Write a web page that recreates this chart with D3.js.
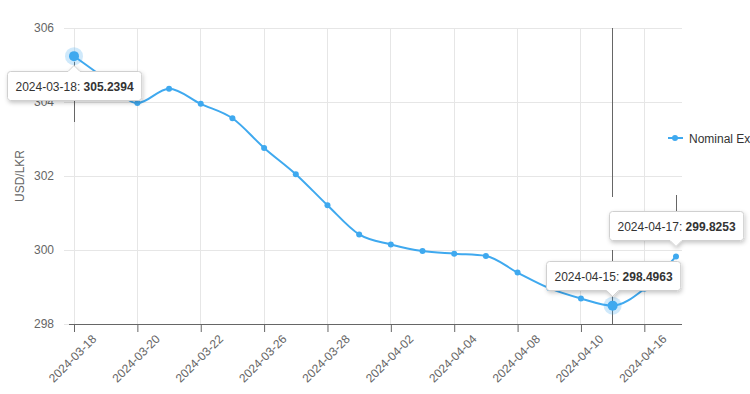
<!DOCTYPE html>
<html><head><meta charset="utf-8">
<script src="https://cdn.jsdelivr.net/npm/d3@7"></script>
<style>
html,body{margin:0;padding:0;background:#fff;overflow:hidden}
svg{display:block;font-family:"Liberation Sans",Arial,sans-serif}
</style></head>
<body>
<svg id="chart" width="750" height="394"></svg>
<script>
const dates = ["2024-03-18","2024-03-19","2024-03-20","2024-03-21","2024-03-22","2024-03-25","2024-03-26","2024-03-27","2024-03-28","2024-04-01","2024-04-02","2024-04-03","2024-04-04","2024-04-05","2024-04-08","2024-04-09","2024-04-10","2024-04-15","2024-04-16","2024-04-17"];
const values = [305.2394,304.62,303.97,304.36,303.95,303.56,302.76,302.05,301.21,300.42,300.15,299.97,299.90,299.84,299.39,298.97,298.69,298.4963,298.95,299.8253];
const tickLabels = ["2024-03-18","2024-03-20","2024-03-22","2024-03-26","2024-03-28","2024-04-02","2024-04-04","2024-04-08","2024-04-10","2024-04-16"];
const yTicks = [298,300,302,304,306];
const seriesName = "Nominal Exchange Rate";
const yTitle = "USD/LKR";
const highlighted = ["2024-03-18","2024-04-15"];
const tooltipDates = ["2024-03-18","2024-04-15","2024-04-17"];

(function(){
const color = "#3fa9ef";
const svg = d3.select("#chart");
const pl = 69, pr = 682, pt = 28, pb = 324;
const x = d3.scalePoint().domain(dates).range([74, 676]);
const y = d3.scaleLinear().domain([298, 306]).range([pb, pt]);

// horizontal grid
svg.append("g").selectAll("line").data(yTicks).join("line")
  .attr("x1", pl - 5).attr("x2", pr)
  .attr("y1", d => y(d)).attr("y2", d => y(d))
  .attr("stroke", "#e6e6e6").attr("stroke-width", 1).attr("shape-rendering","crispEdges");
// vertical grid
svg.append("g").selectAll("line").data(tickLabels).join("line")
  .attr("x1", d => x(d)).attr("x2", d => x(d))
  .attr("y1", pt).attr("y2", pb)
  .attr("stroke", "#e6e6e6").attr("stroke-width", 1).attr("shape-rendering","crispEdges");

// y axis labels
const yAxis = d3.axisLeft(y).tickValues(yTicks).tickSize(0).tickPadding(0);
const gy = svg.append("g").attr("transform", `translate(54,0)`).call(yAxis);
gy.select(".domain").remove();
gy.selectAll("text").attr("font-size", 12).attr("fill", "#666")
  .attr("font-family","Liberation Sans, Arial, sans-serif");

svg.append("text").attr("transform", `translate(24,176) rotate(-90)`)
  .attr("text-anchor", "middle").attr("font-size", 12).attr("fill", "#666").text(yTitle);

// x axis
const xAxis = d3.axisBottom(x).tickValues(tickLabels).tickSize(8).tickSizeOuter(0);
const gx = svg.append("g").attr("transform", `translate(0,${pb})`).call(xAxis);
gx.select(".domain").attr("d", `M${pl},0.5H${pr}`).attr("stroke", "#666");
gx.selectAll(".tick line").attr("stroke", "#666");
gx.selectAll("text").attr("font-size", 12).attr("fill", "#666")
  .attr("font-family","Liberation Sans, Arial, sans-serif")
  .attr("text-anchor", "end").attr("dy", null)
  .attr("transform", "translate(15,8) rotate(-45)");

// crosshair remnants
const cross = svg.append("g").attr("stroke", "#666").attr("stroke-width", 1).attr("shape-rendering","crispEdges");
cross.append("line").attr("x1", x("2024-03-18")).attr("x2", x("2024-03-18")).attr("y1", 62).attr("y2", 122);
cross.append("line").attr("x1", x("2024-04-15")).attr("x2", x("2024-04-15")).attr("y1", pt).attr("y2", 197);
cross.append("line").attr("x1", x("2024-04-15")).attr("x2", x("2024-04-15")).attr("y1", 250).attr("y2", pb);
cross.append("line").attr("x1", x("2024-04-17")).attr("x2", x("2024-04-17")).attr("y1", 195).attr("y2", 212);

// line
const data = dates.map((d, i) => ({d, v: values[i]}));
svg.append("path").datum(data)
  .attr("fill", "none").attr("stroke", color).attr("stroke-width", 2)
  .attr("d", d3.line().x(p => x(p.d)).y(p => y(p.v)).curve(d3.curveMonotoneX));

// points
svg.append("g").selectAll("circle").data(data.filter(p => !highlighted.includes(p.d))).join("circle")
  .attr("cx", p => x(p.d)).attr("cy", p => y(p.v)).attr("r", 3).attr("fill", color);
const hl = svg.append("g").selectAll("g").data(data.filter(p => highlighted.includes(p.d))).join("g");
hl.append("circle").attr("cx", p => x(p.d)).attr("cy", p => y(p.v)).attr("r", 9).attr("fill", color).attr("opacity", 0.25);
hl.append("circle").attr("cx", p => x(p.d)).attr("cy", p => y(p.v)).attr("r", 5).attr("fill", color);

// legend
const lg = svg.append("g").attr("transform", "translate(668,138)");
lg.append("line").attr("x1", 0).attr("x2", 15).attr("y1", 0).attr("y2", 0).attr("stroke", color).attr("stroke-width", 2);
lg.append("circle").attr("cx", 7).attr("cy", 0).attr("r", 3).attr("fill", color);
lg.append("text").attr("x", 21).attr("y", 4.5).attr("font-size", 12).attr("fill", "#333").text(seriesName);

// tooltips
const defs = svg.append("defs");
const f = defs.append("filter").attr("id", "sh").attr("x", "-20%").attr("y", "-40%").attr("width", "140%").attr("height", "190%");
f.append("feDropShadow").attr("dx", 1).attr("dy", 2).attr("stdDeviation", 2).attr("flood-color", "#000").attr("flood-opacity", 0.22);

function tooltip(dateStr, above) {
  const p = data.find(q => q.d === dateStr);
  const px = x(p.d), py = y(p.v);
  const g = svg.append("g");
  const txt = g.append("text").attr("font-size", 12).attr("fill", "#333");
  txt.append("tspan").text(p.d + ": ");
  txt.append("tspan").attr("font-weight", "bold").text(p.v.toFixed(4));
  const w = txt.node().getComputedTextLength() + 16;
  const h = 29;
  const bx = Math.round(px - w / 2) + 0.5;
  let by, path;
  if (above) {
    by = Math.round(py - 16 - h) + 0.5;
    const bb = by + h;
    path = `M${bx+3},${by}H${bx+w-3}Q${bx+w},${by} ${bx+w},${by+3}V${bb-3}Q${bx+w},${bb} ${bx+w-3},${bb}H${px+6}L${px},${bb+6}L${px-6},${bb}H${bx+3}Q${bx},${bb} ${bx},${bb-3}V${by+3}Q${bx},${by} ${bx+3},${by}Z`;
  } else {
    by = Math.round(py + 15) + 0.5;
    const bb = by + h;
    path = `M${bx+3},${by}H${px-6}L${px},${by-6}L${px+6},${by}H${bx+w-3}Q${bx+w},${by} ${bx+w},${by+3}V${bb-3}Q${bx+w},${bb} ${bx+w-3},${bb}H${bx+3}Q${bx},${bb} ${bx},${bb-3}V${by+3}Q${bx},${by} ${bx+3},${by}Z`;
  }
  g.insert("path", "text").attr("d", path).attr("fill", "#fff").attr("stroke", "#d0d0d0").attr("stroke-width", 1).attr("filter", "url(#sh)");
  txt.attr("x", bx + 8).attr("y", by + 19);
}
tooltip(tooltipDates[0], false);
tooltip(tooltipDates[1], true);
tooltip(tooltipDates[2], true);
})();
</script>
</body></html>
